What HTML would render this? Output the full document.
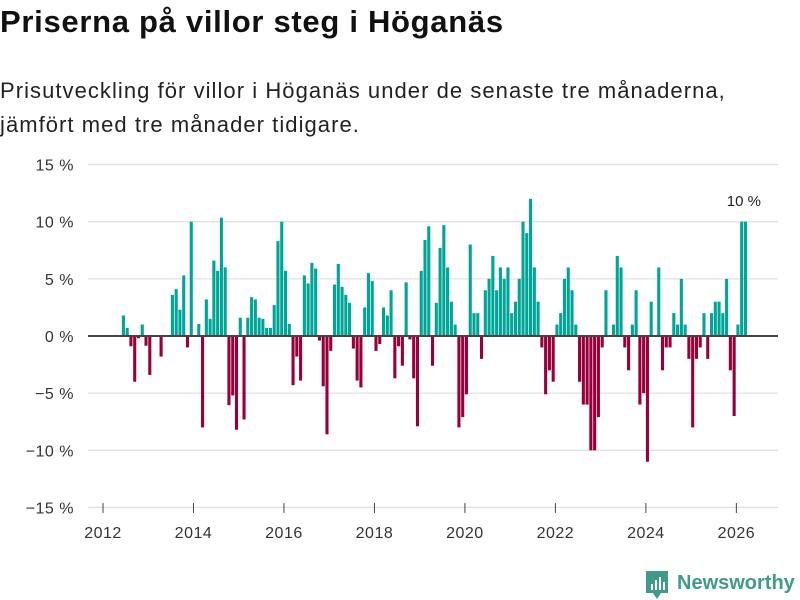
<!DOCTYPE html>
<html><head><meta charset="utf-8">
<style>
body{margin:0;background:#fff;font-family:"Liberation Sans","DejaVu Sans",sans-serif;}
#wrap{position:relative;width:800px;height:600px;overflow:hidden;}
h1{position:absolute;left:0;top:4px;margin:0;font-size:31px;font-weight:bold;color:#111;letter-spacing:0.7px;}
.sub{position:absolute;left:0;top:74px;margin:0;font-size:22px;line-height:34px;color:#222;letter-spacing:1.05px;}
svg{position:absolute;left:0;top:0;}
</style></head><body>
<div id="wrap">
<h1>Priserna på villor steg i Höganäs</h1>
<p class="sub">Prisutveckling för villor i Höganäs under de senaste tre månaderna,<br>jämfört med tre månader tidigare.</p>
<svg id="chart" width="800" height="600"></svg>
</div>
<script>
const startYear = 2012;
const startMonth = 5; // months after Jan 2012 of first value
const values = [1.8,0.7,-0.9,-4.0,-0.2,1.0,-0.85,-3.4,0,0,-1.8,0,0,3.6,4.1,2.3,5.3,-1.0,10.0,0,1.05,-8.0,3.2,1.5,6.6,5.7,10.35,6.0,-6.05,-5.2,-8.2,1.6,-7.3,1.6,3.4,3.2,1.6,1.5,0.7,0.7,2.7,8.3,10.0,5.7,1.05,-4.3,-1.8,-3.9,5.3,4.6,6.4,5.9,-0.4,-4.4,-8.6,-1.3,4.5,6.3,4.3,3.6,2.9,-1.1,-3.9,-4.5,2.5,5.5,4.8,-1.3,-0.7,2.5,1.8,4.0,-3.7,-0.9,-2.6,4.7,-0.3,-3.7,-7.9,5.7,8.4,9.6,-2.6,2.9,7.7,9.7,6.0,3.0,1.0,-8.0,-7.1,-5.1,8.0,2.0,2.0,-2.0,4,5,7,4,6,5,6,2,3,5,10,9,12,6,3,-1,-5.1,-3,-4,1,2,5,6,4,1,-4,-6,-6,-10,-10,-7.1,-1,4,0,1,7,6,-1,-3,1,4,-6,-5,-11,3,0,6,-3,-1,-1,2,1,5,1,-2,-8,-2,-1,2,-2,2,3,3,2,5,-3,-7,1,10,10];
const yTicks = [-15,-10,-5,0,5,10,15];
const yTickLabels = ["−15 %","−10 %","−5 %","0 %","5 %","10 %","15 %"];
const xTicks = [2012,2014,2016,2018,2020,2022,2024,2026];
const lastLabel = "10 %";

const NS="http://www.w3.org/2000/svg";
const svg=document.getElementById('chart');
function y(v){return 336 - v*11.43;}
function x(m){return 103 + m*3.77;}
function mk(t,a){const e=document.createElementNS(NS,t);for(const k in a)e.setAttribute(k,a[k]);svg.appendChild(e);return e;}

yTicks.forEach((t,i)=>{
  if(t!==0){const g=mk('line',{x1:88,x2:778,y1:y(t),y2:y(t),stroke:'#e0e0e0','stroke-width':1.3});
  
  }
  const tx=mk('text',{x:74,y:y(t)+6,'text-anchor':'end','font-size':16,fill:'#333','font-family':'Liberation Sans, sans-serif','letter-spacing':0.5});
  tx.textContent=yTickLabels[i];
  
  
});
xTicks.forEach(yr=>{
  const px=x((yr-startYear)*12);
  const l=mk('line',{x1:px,x2:px,y1:503,y2:513,stroke:'#444','stroke-width':1});
  
  
  const tx=mk('text',{x:px,y:538,'text-anchor':'middle','font-size':16,fill:'#333','font-family':'Liberation Sans, sans-serif','letter-spacing':0.5});
  tx.textContent=String(yr);
  
  
});
values.forEach((v,i)=>{
  if(v===0)return;
  const m=startMonth+i;
  const top=Math.min(y(v),y(0)), h=Math.abs(y(v)-y(0));
  const r=mk('rect',{x:x(m),y:top,width:3.1,height:h,fill:v>0?'#00a598':'#98003c'});
  
  
});
const zl=mk('line',{x1:88,x2:778,y1:336,y2:336,stroke:'#444','stroke-width':2});


const lastM=startMonth+values.length-1;
const ll=mk('text',{x:x(lastM),y:206,'text-anchor':'middle','font-size':15,fill:'#222','font-family':'Liberation Sans, sans-serif'});
ll.textContent=lastLabel;



// logo
const lg=mk('g',{});


const p=document.createElementNS(NS,'path');
p.setAttribute('d','M646 571 h22 v22 h-7 l-4 6 l-4 -6 h-7 z');
p.setAttribute('fill','#3f9a8a');
lg.appendChild(p);
[[651,584,2,6],[655,580,2,10],[659,577,2,13],[663,582,2,8]].forEach(b=>{
  const r=document.createElementNS(NS,'rect');
  r.setAttribute('x',b[0]);r.setAttribute('y',b[1]);r.setAttribute('width',b[2]);r.setAttribute('height',b[3]);r.setAttribute('fill','#fff');
  lg.appendChild(r);
});
const lt=document.createElementNS(NS,'text');
lt.setAttribute('x',677);lt.setAttribute('y',589);lt.setAttribute('font-size',20);lt.setAttribute('font-weight','bold');
lt.setAttribute('fill','#3f9a8a');lt.setAttribute('font-family','Liberation Sans, sans-serif');
lt.textContent='Newsworthy';
lg.appendChild(lt);
</script>
</body></html>
